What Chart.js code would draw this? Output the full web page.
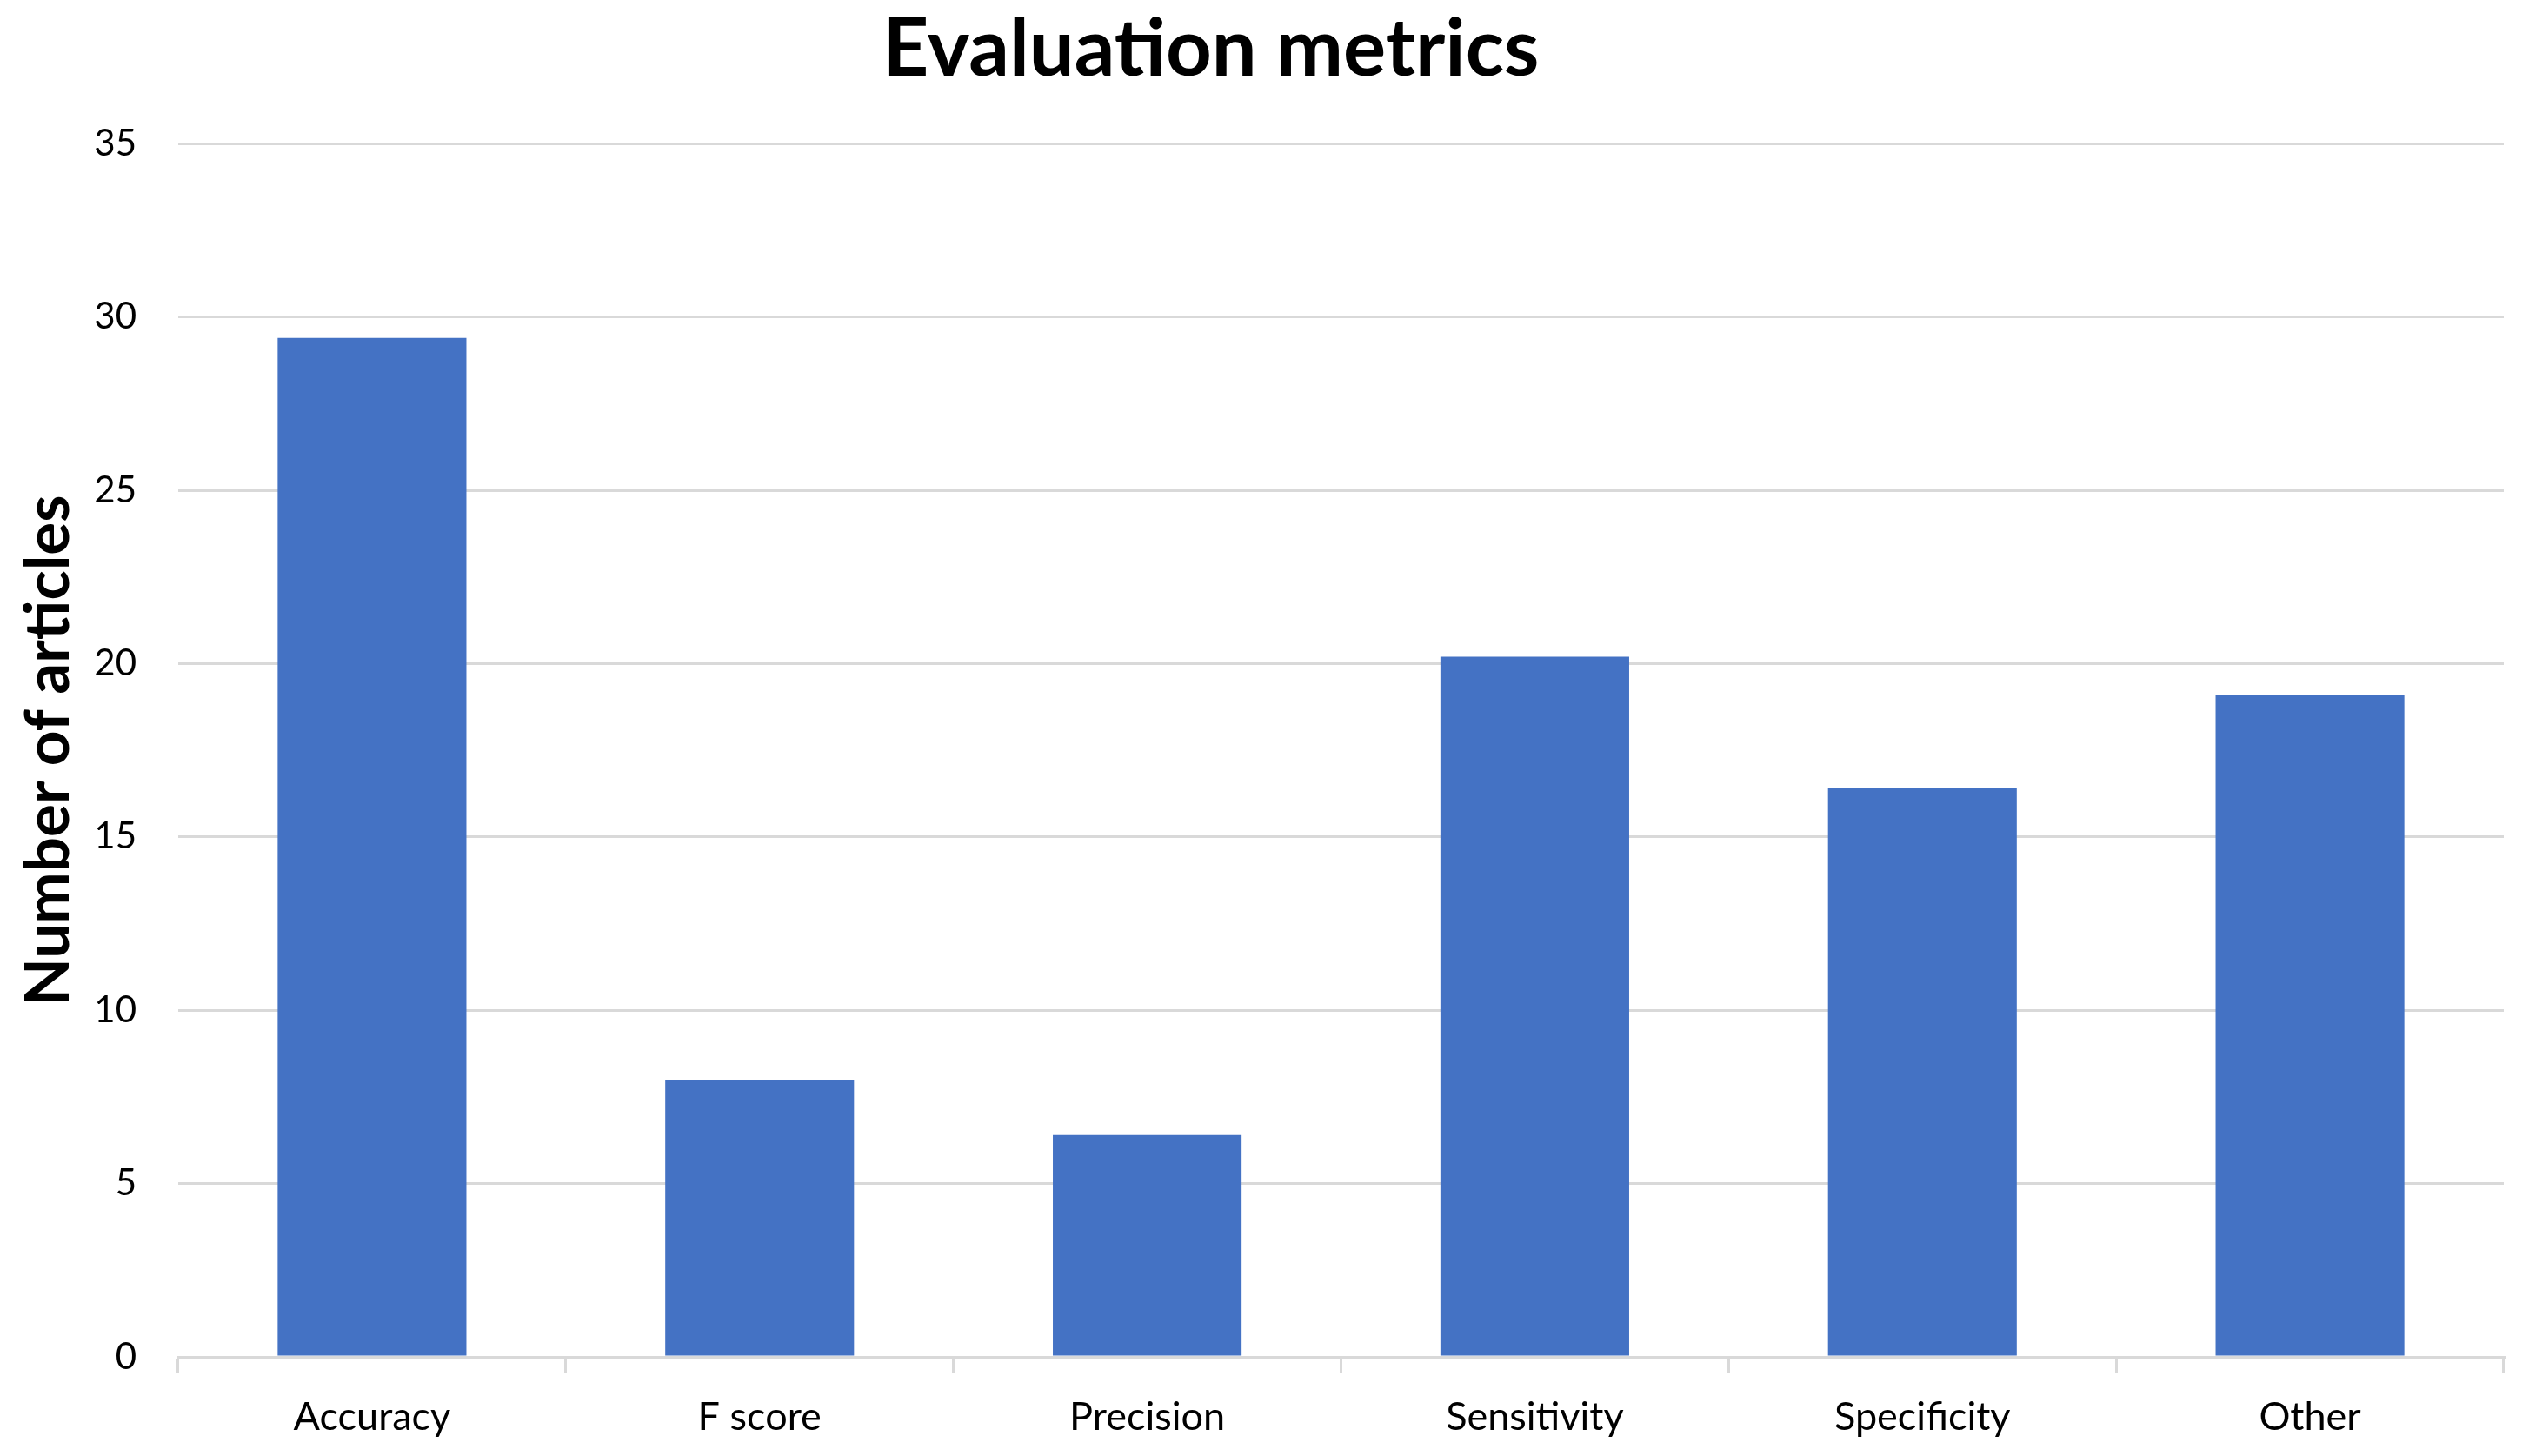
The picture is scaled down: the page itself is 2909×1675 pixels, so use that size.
<!DOCTYPE html>
<html>
<head>
<meta charset="utf-8">
<script src="https://cdn.jsdelivr.net/npm/chart.js@4"></script>
<style>
  html, body { margin: 0; padding: 0; background: #ffffff; }
  #wrap { width: 2909px; height: 1675px; }
</style>
</head>
<body>
<div id="wrap"><canvas id="c" width="2909" height="1675"></canvas></div>
<script>
const categories = ["Accuracy", "F score", "Precision", "Sensitivity", "Specificity", "Other"];
const articleCounts = [29.4, 8.0, 6.4, 20.2, 16.4, 19.1];
const yTickMax = 35;
const yTickStep = 5;
const chartTitle = "Evaluation metrics";
const yAxisTitle = "Number of articles";

const shiftTitle = {
  id: 'shiftTitle',
  afterLayout(chart) {
    const t = chart.titleBlock;
    if (t) { t.left -= 54; t.right -= 54; }
  }
};

new Chart(document.getElementById('c'), {
  type: 'bar',
  data: {
    labels: categories,
    datasets: [{
      data: articleCounts,
      backgroundColor: '#4472C4',
      borderWidth: 0,
      categoryPercentage: 1.0,
      barPercentage: 0.487
    }]
  },
  options: {
    responsive: false,
    devicePixelRatio: 1,
    animation: false,
    layout: { padding: { left: 14, right: 29, top: 0, bottom: 0 } },
    plugins: {
      legend: { display: false },
      tooltip: { enabled: false },
      title: {
        display: true,
        text: chartTitle,
        color: '#000000',
        font: { family: 'Lato', size: 92, weight: 'bold', lineHeight: 1.2 },
        padding: { top: 2, bottom: 53 }
      }
    },
    scales: {
      x: {
        afterFit(scale) { scale.height = 114; },
        grid: {
          display: true,
          offset: true,
          drawOnChartArea: false,
          drawTicks: true,
          tickLength: 18,
          color: '#d9d9d9',
          lineWidth: 3
        },
        border: { display: true, color: '#d9d9d9', width: 3 },
        ticks: {
          color: '#000000',
          font: { family: 'Lato', size: 45 },
          padding: 24,
          maxRotation: 0
        }
      },
      y: {
        min: 0,
        max: yTickMax,
        afterFit(scale) { scale.width = 191; },
        ticks: {
          stepSize: yTickStep,
          color: '#000000',
          font: { family: 'Lato', size: 42 },
          padding: 48
        },
        grid: {
          color: '#d9d9d9',
          lineWidth: 3,
          drawTicks: false
        },
        border: { display: false },
        title: {
          display: true,
          text: yAxisTitle,
          color: '#000000',
          font: { family: 'Lato', size: 71, weight: 'bold', lineHeight: 1.2 },
          padding: { top: 0, bottom: 7 }
        }
      }
    }
  },
  plugins: [shiftTitle]
});
</script>
</body>
</html>
